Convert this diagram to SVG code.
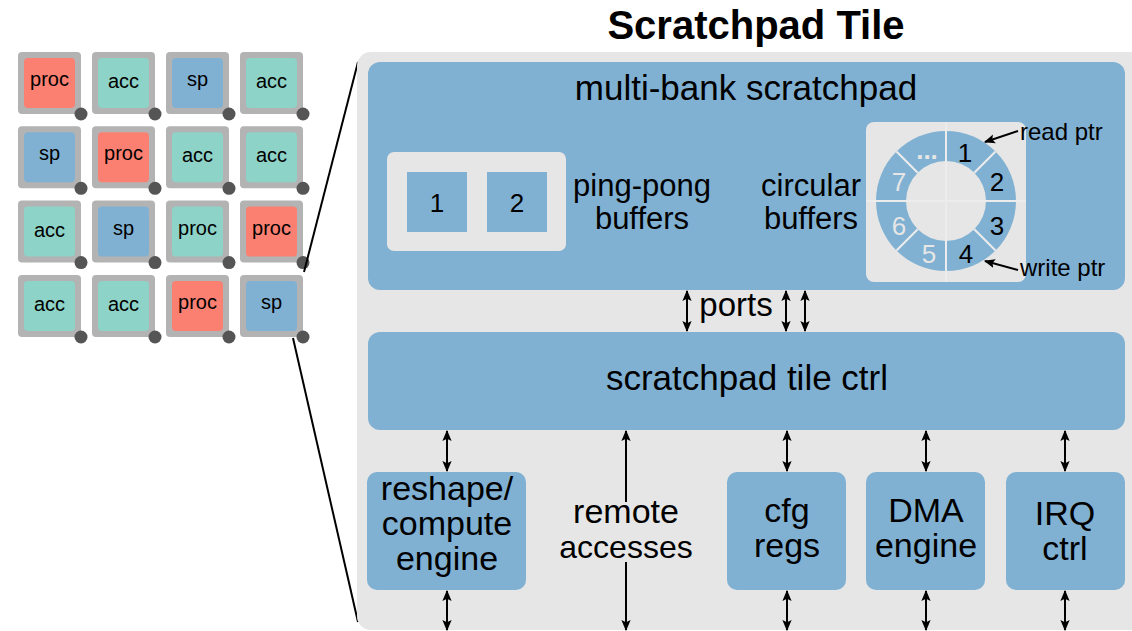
<svg xmlns="http://www.w3.org/2000/svg" width="1132" height="631" viewBox="0 0 1132 631">
  <defs>
    <style>
      text { font-family: "Liberation Sans", Arial, sans-serif; fill: #000; text-anchor: middle; }
      .title { font-weight: bold; font-size: 40px; }
      .big { font-size: 35px; }
      .mid { font-size: 31px; }
      .lbl { font-size: 34px; }
      .tl { font-size: 20px; }
      .ring { font-size: 26px; }
      .ptr { font-size: 24px; text-anchor: start; }
      .lt { fill: #e6e6e6; }
      .blue { fill: #80b1d3; }
      .panel { fill: #e6e6e6; }
      .frame { fill: #b3b3b3; }
      .dot { fill: #555555; }
      .proc { fill: #fb8072; }
      .acc { fill: #8dd3c7; }
      .sp { fill: #80b1d3; }
      .wire { stroke: #000; stroke-width: 2; fill: none; }
      .bi { marker-start: url(#head); marker-end: url(#head); }
      .one { marker-end: url(#head); }
      .sep { stroke: #ececec; stroke-width: 2; }
    </style>
    <marker id="head" viewBox="0 0 10 10" refX="9" refY="5" markerWidth="5.5" markerHeight="5.5" orient="auto-start-reverse" markerUnits="strokeWidth">
      <path d="M0,0.8 L10,5 L0,9.2 L2,5 Z" fill="#000"/>
    </marker>
    <!-- grey frame shared by every mesh tile -->
    <g id="frameShape">
      <rect x="0" y="0" width="63" height="62" rx="4" class="frame"/>
    </g>
  </defs>

  <rect width="1132" height="631" fill="#ffffff"/>

  <!-- tile mesh -->
  <g id="mesh">
    <g id="t00" transform="translate(18,52)"><use href="#frameShape"/><rect x="6" y="6" width="51" height="50" rx="4" class="proc"/><text x="31.5" y="34" class="tl">proc</text><circle cx="63" cy="62" r="6.5" class="dot"/></g>
    <g id="t01" transform="translate(92,52)"><use href="#frameShape"/><rect x="6" y="6" width="51" height="50" rx="4" class="acc"/><text x="31.5" y="36" class="tl">acc</text><circle cx="63" cy="62" r="6.5" class="dot"/></g>
    <g id="t02" transform="translate(166,52)"><use href="#frameShape"/><rect x="6" y="6" width="51" height="50" rx="4" class="sp"/><text x="31.5" y="34" class="tl">sp</text><circle cx="63" cy="62" r="6.5" class="dot"/></g>
    <g id="t03" transform="translate(240,52)"><use href="#frameShape"/><rect x="6" y="6" width="51" height="50" rx="4" class="acc"/><text x="31.5" y="36" class="tl">acc</text><circle cx="63" cy="62" r="6.5" class="dot"/></g>

    <g id="t10" transform="translate(18,126.3)"><use href="#frameShape"/><rect x="6" y="6" width="51" height="50" rx="4" class="sp"/><text x="31.5" y="34" class="tl">sp</text><circle cx="63" cy="62" r="6.5" class="dot"/></g>
    <g id="t11" transform="translate(92,126.3)"><use href="#frameShape"/><rect x="6" y="6" width="51" height="50" rx="4" class="proc"/><text x="31.5" y="34" class="tl">proc</text><circle cx="63" cy="62" r="6.5" class="dot"/></g>
    <g id="t12" transform="translate(166,126.3)"><use href="#frameShape"/><rect x="6" y="6" width="51" height="50" rx="4" class="acc"/><text x="31.5" y="36" class="tl">acc</text><circle cx="63" cy="62" r="6.5" class="dot"/></g>
    <g id="t13" transform="translate(240,126.3)"><use href="#frameShape"/><rect x="6" y="6" width="51" height="50" rx="4" class="acc"/><text x="31.5" y="36" class="tl">acc</text><circle cx="63" cy="62" r="6.5" class="dot"/></g>

    <g id="t20" transform="translate(18,200.6)"><use href="#frameShape"/><rect x="6" y="6" width="51" height="50" rx="4" class="acc"/><text x="31.5" y="36" class="tl">acc</text><circle cx="63" cy="62" r="6.5" class="dot"/></g>
    <g id="t21" transform="translate(92,200.6)"><use href="#frameShape"/><rect x="6" y="6" width="51" height="50" rx="4" class="sp"/><text x="31.5" y="34" class="tl">sp</text><circle cx="63" cy="62" r="6.5" class="dot"/></g>
    <g id="t22" transform="translate(166,200.6)"><use href="#frameShape"/><rect x="6" y="6" width="51" height="50" rx="4" class="acc"/><text x="31.5" y="34" class="tl">proc</text><circle cx="63" cy="62" r="6.5" class="dot"/></g>
    <g id="t23" transform="translate(240,200.6)"><use href="#frameShape"/><rect x="6" y="6" width="51" height="50" rx="4" class="proc"/><text x="31.5" y="34" class="tl">proc</text><circle cx="63" cy="62" r="6.5" class="dot"/></g>

    <g id="t30" transform="translate(18,275)"><use href="#frameShape"/><rect x="6" y="6" width="51" height="50" rx="4" class="acc"/><text x="31.5" y="36" class="tl">acc</text><circle cx="63" cy="62" r="6.5" class="dot"/></g>
    <g id="t31" transform="translate(92,275)"><use href="#frameShape"/><rect x="6" y="6" width="51" height="50" rx="4" class="acc"/><text x="31.5" y="36" class="tl">acc</text><circle cx="63" cy="62" r="6.5" class="dot"/></g>
    <g id="t32" transform="translate(166,275)"><use href="#frameShape"/><rect x="6" y="6" width="51" height="50" rx="4" class="proc"/><text x="31.5" y="34" class="tl">proc</text><circle cx="63" cy="62" r="6.5" class="dot"/></g>
    <g id="t33" transform="translate(240,275)"><use href="#frameShape"/><rect x="6" y="6" width="51" height="50" rx="4" class="sp"/><text x="31.5" y="34" class="tl">sp</text><circle cx="63" cy="62" r="6.5" class="dot"/></g>
  </g>

  <!-- zoom lines from the sp tile to the enlarged view -->
  <g id="zoom-lines" class="wire">
    <line x1="304" y1="272" x2="358" y2="62"/>
    <line x1="293" y1="338" x2="358" y2="622"/>
  </g>

  <text x="756" y="39" class="title">Scratchpad Tile</text>

  <!-- enlarged tile -->
  <g id="tile-panel">
    <rect x="357" y="52" width="800" height="578" rx="14" class="panel"/>
  </g>

  <g id="scratchpad">
    <rect x="368" y="62" width="757" height="228" rx="12" class="blue"/>
    <text x="746" y="100" class="big">multi-bank scratchpad</text>
  </g>

  <g id="ping-pong">
    <rect x="387" y="152" width="179" height="99" rx="7" class="lt"/>
    <rect x="407" y="172" width="60" height="60" class="blue"/>
    <rect x="487" y="172" width="60" height="60" class="blue"/>
    <text x="437" y="212" class="ring">1</text>
    <text x="517" y="212" class="ring">2</text>
    <text x="642" y="196" class="mid">ping-pong</text>
    <text x="642" y="229" class="mid">buffers</text>
  </g>

  <g id="circular">
    <text x="811" y="196" class="mid">circular</text>
    <text x="811" y="229" class="mid">buffers</text>
    <rect x="866" y="122" width="160" height="160" rx="8" class="lt"/>
    <circle cx="946" cy="201" r="70" class="blue"/>
    <circle cx="946" cy="201" r="40" class="lt"/>
    <line x1="946" y1="122" x2="946" y2="282" class="sep"/>
    <line x1="866" y1="201" x2="1026" y2="201" class="sep"/>
    <line x1="974.3" y1="172.7" x2="995.5" y2="151.5" class="sep"/>
    <line x1="974.3" y1="229.3" x2="995.5" y2="250.5" class="sep"/>
    <line x1="917.7" y1="229.3" x2="896.5" y2="250.5" class="sep"/>
    <line x1="917.7" y1="172.7" x2="896.5" y2="151.5" class="sep"/>
    <text x="965" y="162" class="ring">1</text>
    <text x="997" y="191" class="ring">2</text>
    <text x="997" y="235" class="ring">3</text>
    <text x="966" y="263" class="ring">4</text>
    <text x="929" y="263" class="ring lt">5</text>
    <text x="899" y="235" class="ring lt">6</text>
    <text x="899" y="191" class="ring lt">7</text>
    <text x="927" y="159" class="ring lt" style="font-weight:bold">...</text>
    <text x="1020" y="140" class="ptr">read ptr</text>
    <text x="1020" y="276" class="ptr">write ptr</text>
  </g>

  <text x="736" y="316" class="big" style="font-size:33px">ports</text>

  <g id="tile-ctrl">
    <rect x="368" y="332" width="757" height="98" rx="12" class="blue"/>
    <text x="747" y="390" class="big">scratchpad tile ctrl</text>
  </g>

  <g id="reshape">
    <rect x="367" y="472" width="159" height="118" rx="10" class="blue"/>
    <text x="447" y="500" class="lbl">reshape/</text>
    <text x="447" y="535" class="lbl">compute</text>
    <text x="447" y="570" class="lbl">engine</text>
  </g>

  <g id="remote">
    <text x="626" y="523" class="lbl">remote</text>
    <text x="626" y="558" class="lbl" style="font-size:32px">accesses</text>
  </g>

  <g id="cfg">
    <rect x="727" y="472" width="119" height="118" rx="10" class="blue"/>
    <text x="787" y="522" class="lbl">cfg</text>
    <text x="787" y="557" class="lbl">regs</text>
  </g>

  <g id="dma">
    <rect x="866" y="472" width="119" height="118" rx="10" class="blue"/>
    <text x="926" y="522" class="lbl">DMA</text>
    <text x="926" y="557" class="lbl">engine</text>
  </g>

  <g id="irq">
    <rect x="1006" y="472" width="119" height="118" rx="10" class="blue"/>
    <text x="1065" y="525" class="lbl">IRQ</text>
    <text x="1065" y="560" class="lbl">ctrl</text>
  </g>

  <!-- connectors -->
  <g id="connectors" class="wire">
    <line x1="1018" y1="131" x2="985" y2="142" class="one"/>
    <line x1="1018" y1="270" x2="985" y2="261" class="one"/>

    <line x1="687" y1="291" x2="687" y2="331" class="bi"/>
    <line x1="786" y1="291" x2="786" y2="331" class="bi"/>
    <line x1="805" y1="291" x2="805" y2="331" class="bi"/>

    <line x1="447" y1="431" x2="447" y2="471" class="bi"/>
    <line x1="787" y1="431" x2="787" y2="471" class="bi"/>
    <line x1="926" y1="431" x2="926" y2="471" class="bi"/>
    <line x1="1065" y1="431" x2="1065" y2="471" class="bi"/>

    <line x1="447" y1="591" x2="447" y2="630" class="bi"/>
    <line x1="787" y1="591" x2="787" y2="630" class="bi"/>
    <line x1="926" y1="591" x2="926" y2="630" class="bi"/>
    <line x1="1065" y1="591" x2="1065" y2="630" class="bi"/>

    <line x1="626" y1="502" x2="626" y2="431" class="one"/>
    <line x1="626" y1="562" x2="626" y2="630" class="one"/>
  </g>
</svg>
